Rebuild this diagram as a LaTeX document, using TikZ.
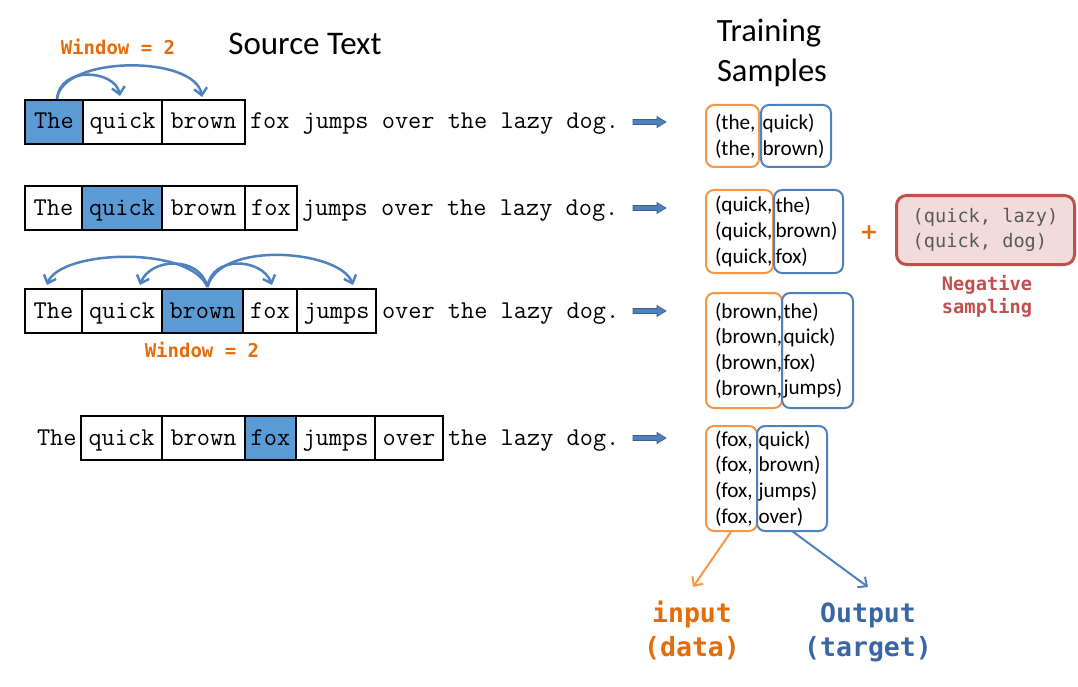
\documentclass[tikz,border=0pt]{standalone}
\usepackage{fontspec}
\setmainfont{Carlito}
\newfontfamily\dejamono{DejaVu Sans Mono}
\newfontfamily\dejasans{DejaVu Sans}
\usetikzlibrary{arrows.meta,calc}
\definecolor{cellblue}{HTML}{5B9BD5}
\definecolor{arcblue}{HTML}{4F81BD}
\definecolor{arrowdark}{HTML}{385D8A}
\definecolor{boxorange}{HTML}{F79646}
\definecolor{txtorange}{HTML}{E46C0A}
\definecolor{negred}{HTML}{C0504D}
\definecolor{negfill}{HTML}{F2DCDB}
\definecolor{outblue}{HTML}{3A67A3}
\definecolor{greytxt}{HTML}{595959}
\newcommand\blockarrowat[1]{%
  \begin{scope}[shift={#1}]
    \draw[fill=arcblue, draw=arrowdark, line width=0.6pt]
      (0,-2.5) -- (24,-2.5) -- (24,-5.5) -- (33,0) -- (24,5.5) -- (24,2.5) -- (0,2.5) -- cycle;
  \end{scope}}
\begin{document}
\begin{tikzpicture}[x=1pt,y=-1pt,
  cell/.style={draw=black, line width=1.5pt, minimum height=44pt, inner sep=0pt, outer sep=0pt, anchor=west,
    font=\ttfamily\fontsize{25.6}{25.6}\selectfont, text height=16pt, text depth=2pt},
  hl/.style={fill=cellblue},
  plain/.style={inner sep=0pt, outer sep=0pt, anchor=west, font=\ttfamily\fontsize{25.6}{25.6}\selectfont, text height=16pt, text depth=2pt},
  hop/.style={draw=arcblue, line width=2.5pt, -{Straight Barb[length=7pt,width=13pt,line width=2.5pt]}},
  obox/.style={draw=boxorange, line width=2pt, rounded corners=8pt, anchor=north west, inner xsep=9pt, inner ysep=0pt,
    outer sep=0pt, align=left, font=\fontsize{21.2}{25.6}\selectfont},
  bbox/.style={draw=arcblue, line width=2pt, rounded corners=8pt, anchor=north west, inner xsep=1.5pt, inner ysep=0pt,
    outer sep=0pt, align=left, font=\fontsize{21.2}{25.6}\selectfont},
  title/.style={font=\fontsize{33}{33}\selectfont, anchor=base, inner sep=0pt},
  winlbl/.style={font=\dejamono\bfseries\fontsize{19}{19}\selectfont, text=txtorange, anchor=base, inner sep=0pt},
  biglbl/.style={font=\dejamono\bfseries\fontsize{26.5}{26.5}\selectfont, anchor=base, inner sep=0pt},
  neglbl/.style={font=\dejamono\bfseries\fontsize{18.7}{18.7}\selectfont, text=negred, anchor=base, inner sep=0pt},
  pointer/.style={line width=2pt, -{Straight Barb[length=7pt,width=13pt,line width=2pt]}}
]
\useasboundingbox (0,0) rectangle (1078,687);

% titles
\node[title] (src) at (305,55) {Source Text};
\node[title, font=\fontsize{32.5}{32.5}\selectfont] (tr1) at (769,42) {Training};
\node[title, font=\fontsize{32.5}{32.5}\selectfont] (tr2) at (772,82) {Samples};

% row 1
\node[cell, hl, minimum width=58pt] (r1a) at (25,122) {The};
\node[cell, minimum width=79pt] (r1b) at (83,122) {quick};
\node[cell, minimum width=83pt] (r1c) at (162,122) {brown};
\node[plain] (r1t) at (250,122) {fox jumps over the lazy dog.};
\blockarrowat{(633,122)}
\node[winlbl] (w1) at (118,55) {Window = 2};
\draw[hop] ($(r1a.north)+(3,-1)$) .. controls +(3,-34) and +(-5,-26) .. ($(r1b.north)+(-2.5,-4)$);
\draw[hop] ($(r1a.north)+(3,-1)$) .. controls +(5,-44) and +(-7,-42) .. ($(r1c.north)+(-1.5,-3)$);

% row 2
\node[cell, minimum width=57pt] (r2a) at (25,208) {The};
\node[cell, hl, minimum width=80pt] (r2b) at (82,208) {quick};
\node[cell, minimum width=83pt] (r2c) at (162,208) {brown};
\node[cell, minimum width=52pt] (r2d) at (245,208) {fox};
\node[plain] (r2t) at (302,208) {jumps over the lazy dog.};
\blockarrowat{(633,208)}

% row 3
\node[cell, minimum width=57pt] (r3a) at (25,311) {The};
\node[cell, minimum width=80pt] (r3b) at (82,311) {quick};
\node[cell, hl, minimum width=81pt] (r3c) at (162,311) {brown};
\node[cell, minimum width=54pt] (r3d) at (243,311) {fox};
\node[cell, minimum width=79pt] (r3e) at (297,311) {jumps};
\node[plain] (r3t) at (382,311) {over the lazy dog.};
\blockarrowat{(633,311)}
\node[winlbl] (w2) at (202,357) {Window = 2};
\coordinate (s3) at ($(r3c.north)+(5,-2)$);
\draw[hop] (s3) .. controls +(-18,-42) and +(13,-35) .. ($(r3a.north)+(-6.5,-4)$);
\draw[hop] (s3) .. controls +(-8,-32) and +(10,-27) .. ($(r3b.north)+(18,-4)$);
\draw[hop] (s3) .. controls +(4,-32) and +(-10,-27) .. ($(r3d.north)+(2,-4)$);
\draw[hop] (s3) .. controls +(12,-47) and +(-13,-35) .. ($(r3e.north)+(16.5,-4)$);

% row 4
\node[plain] (r4a) at (37,438) {The};
\node[cell, minimum width=81pt] (r4b) at (81,438) {quick};
\node[cell, minimum width=83pt] (r4c) at (162,438) {brown};
\node[cell, hl, minimum width=51pt] (r4d) at (245,438) {fox};
\node[cell, minimum width=79pt] (r4e) at (296,438) {jumps};
\node[cell, minimum width=68pt] (r4f) at (375,438) {over};
\node[plain] (r4t) at (448,438) {the lazy dog.};
\blockarrowat{(633,438)}

% training samples
\node[obox, text width=35pt, minimum height=62pt] (g1o) at (706,105) {(the,\\(the,};
\node[bbox, text width=67pt, minimum height=62pt] (g1b) at (761,105) {quick)\\brown)};

\node[obox, text width=49pt, minimum height=83pt] (g2o) at (706,190) {(quick,\\(quick,\\(quick,};
\node[bbox, text width=66pt, minimum height=83pt] (g2b) at (774,190) {the)\\brown)\\fox)};

\node[obox, text width=58pt, minimum height=115pt] (g3o) at (706,293) {(brown,\\(brown,\\(brown,\\(brown,};
\node[bbox, text width=68pt, minimum height=115pt] (g3b) at (782,293) {the)\\quick)\\fox)\\jumps)};

\node[obox, text width=33pt, minimum height=105pt] (g4o) at (706,426) {(fox,\\(fox,\\(fox,\\(fox,};
\node[bbox, text width=67pt, minimum height=105pt] (g4b) at (757,426) {quick)\\brown)\\jumps)\\over)};

% negative sampling
\node[font=\dejasans\bfseries\fontsize{22}{22}\selectfont, text=txtorange, inner sep=0pt] (plus) at (869,233) {+};
\node[draw=negred, fill=negfill, line width=3pt, rounded corners=10pt, minimum width=178pt, minimum height=69pt,
  align=left, inner sep=0pt, font=\dejamono\fontsize{18.6}{25}\selectfont, text=greytxt] (neg) at (985.5,230)
  {(quick, lazy)\\(quick, dog)};
\node[neglbl] (nl1) at (987,290) {Negative};
\node[neglbl] (nl2) at (987,313) {sampling};

% input / output
\coordinate (inp) at (693,587);
\coordinate (outp) at (868,587);
\draw[pointer, draw=boxorange] (g4o.south) -- (inp);
\draw[pointer, draw=arcblue] (g4b.south) -- (outp);
\node[biglbl, text=txtorange] (in1) at (692,622) {input};
\node[biglbl, text=txtorange] (in2) at (692,656) {(data)};
\node[biglbl, text=outblue] (out1) at (868,622) {Output};
\node[biglbl, text=outblue] (out2) at (868,656) {(target)};
\end{tikzpicture}
\end{document}
